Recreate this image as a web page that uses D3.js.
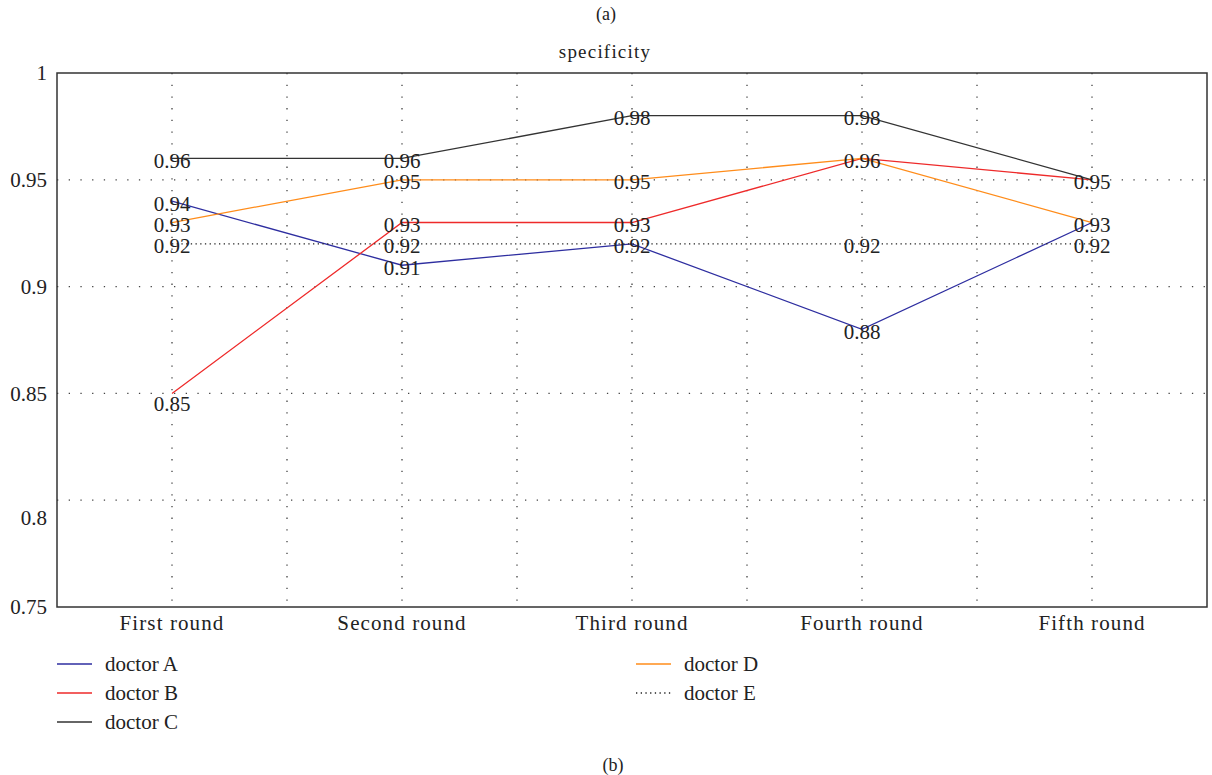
<!DOCTYPE html>
<html>
<head>
<meta charset="utf-8">
<script src="https://cdn.jsdelivr.net/npm/d3@7"></script>
<style>
  body { margin: 0; background: #fff; }
  text { font-family: "Liberation Serif", "Times New Roman", serif; fill: #222; }
</style>
</head>
<body>
<div class="chart"></div>
<script>
var rounds = ["First round", "Second round", "Third round", "Fourth round", "Fifth round"];
var doctorA = [0.94, 0.91, 0.92, 0.88, 0.93];
var doctorB = [0.85, 0.93, 0.93, 0.96, 0.95];
var doctorC = [0.96, 0.96, 0.98, 0.98, 0.95];
var doctorD = [0.93, 0.95, 0.95, 0.96, 0.93];
var doctorE = [0.92, 0.92, 0.92, 0.92, 0.92];
var yTicks = [0.75, 0.8, 0.85, 0.9, 0.95, 1];

var series = [
    {name: "doctor A", values: doctorA, color: "#2e2ea0", dash: null},
    {name: "doctor B", values: doctorB, color: "#ee2a2a", dash: null},
    {name: "doctor C", values: doctorC, color: "#333333", dash: null},
    {name: "doctor D", values: doctorD, color: "#ff8c1a", dash: null},
    {name: "doctor E", values: doctorE, color: "#222222", dash: "1.3,3.4"}
];

var W = 1212, H = 775;
var pLeft = 57, pRight = 1207, pTop = 73, pBottom = 607;

var svg = d3.select(".chart").append("svg")
    .attr("width", W)
    .attr("height", H);

var x = d3.scalePoint().domain(rounds).range([pLeft, pRight]).padding(0.5);
var y = d3.scaleLinear().domain([0.75, 1]).range([pBottom, pTop]);

// captions
svg.append("text").attr("x", 606).attr("y", 20).attr("text-anchor", "middle")
    .style("font-size", "18px").text("(a)");
svg.append("text").attr("x", 613).attr("y", 771).attr("text-anchor", "middle")
    .style("font-size", "18px").text("(b)");
svg.append("text").attr("x", 605).attr("y", 58).attr("text-anchor", "middle")
    .style("font-size", "19px").style("letter-spacing", "1.2px").text("specificity");

// grid: horizontal
svg.append("g").selectAll("line")
    .data(yTicks.filter(function(d) { return d > 0.75 && d < 1; }))
    .enter().append("line")
    .attr("x1", pLeft).attr("x2", pRight)
    .attr("y1", function(d) { return y(d); })
    .attr("y2", function(d) { return y(d); })
    .attr("stroke", "#444").attr("stroke-width", 1.3)
    .attr("stroke-dasharray", "1.3,10.4");

// grid: vertical, at each round and half way between
var step = x.step();
var vgrid = [];
rounds.forEach(function(r, i) {
    vgrid.push(x(r));
    if (i < rounds.length - 1) vgrid.push(x(r) + step / 2);
});
svg.append("g").selectAll("line")
    .data(vgrid)
    .enter().append("line")
    .attr("x1", function(d) { return d; }).attr("x2", function(d) { return d; })
    .attr("y1", pTop).attr("y2", pBottom)
    .attr("stroke", "#444").attr("stroke-width", 1.3)
    .attr("stroke-dasharray", "1.3,10.4");

// frame
svg.append("rect")
    .attr("x", pLeft).attr("y", pTop)
    .attr("width", pRight - pLeft).attr("height", pBottom - pTop)
    .attr("fill", "none").attr("stroke", "#333").attr("stroke-width", 1.5);

// y axis labels
svg.append("g").selectAll("text")
    .data(yTicks)
    .enter().append("text")
    .attr("x", pLeft - 10)
    .attr("y", function(d) { return y(d) + (d === 0.8 ? 17 : 0); })
    .attr("dy", "0.35em")
    .attr("text-anchor", "end")
    .style("font-size", "21px")
    .text(function(d) { return String(+d.toFixed(2)); });

// x axis labels
svg.append("g").selectAll("text")
    .data(rounds)
    .enter().append("text")
    .attr("x", function(d) { return x(d); })
    .attr("y", pBottom + 23)
    .attr("text-anchor", "middle")
    .style("font-size", "21px").style("letter-spacing", "1.1px")
    .text(function(d) { return d; });

// lines
var line = d3.line()
    .x(function(d, i) { return x(rounds[i]); })
    .y(function(d) { return y(d); });

svg.append("g").selectAll("path")
    .data(series)
    .enter().append("path")
    .attr("d", function(s) { return line(s.values); })
    .attr("fill", "none")
    .attr("stroke", function(s) { return s.color; })
    .attr("stroke-width", function(s) { return s.dash ? 1.4 : 1.3; })
    .attr("stroke-dasharray", function(s) { return s.dash; });

// value labels, one per distinct value at each round
var labels = [];
var seen = {};
series.forEach(function(s) {
    s.values.forEach(function(v, i) {
        var key = i + "_" + v.toFixed(2);
        if (seen[key]) return;
        seen[key] = true;
        labels.push({round: rounds[i], value: v});
    });
});
var lowest = d3.min(labels, function(d) { return d.value; });
svg.append("g").selectAll("text")
    .data(labels)
    .enter().append("text")
    .attr("x", function(d) { return x(d.round); })
    .attr("y", function(d) { return y(d.value) + (d.value === lowest ? 10 : 2); })
    .attr("dy", "0.35em")
    .attr("text-anchor", "middle")
    .style("font-size", "21px")
    .text(function(d) { return d.value.toFixed(2); });

// legend
var legend = svg.append("g");
series.forEach(function(s, i) {
    var col = i < 3 ? 0 : 1;
    var row = i < 3 ? i : i - 3;
    var lx = col === 0 ? 57 : 636;
    var ly = 664 + row * 29;
    legend.append("line")
        .attr("x1", lx).attr("x2", lx + 35)
        .attr("y1", ly).attr("y2", ly)
        .attr("stroke", s.color).attr("stroke-width", 1.4)
        .attr("stroke-dasharray", s.dash);
    legend.append("text")
        .attr("x", lx + 48).attr("y", ly)
        .attr("dy", "0.35em")
        .style("font-size", "21px")
        .text(s.name);
});
</script>
</body>
</html>
